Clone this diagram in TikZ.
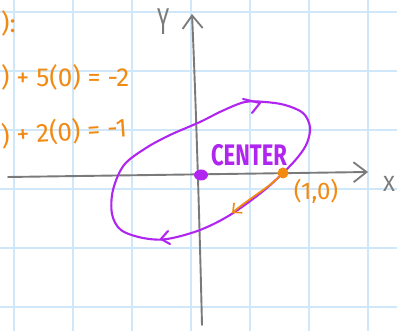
\documentclass[tikz,border=0pt]{standalone}
\usepackage{fontspec}
\setmainfont{Fira Sans}
\usetikzlibrary{arrows.meta}
\definecolor{gridc}{HTML}{CFE7F8}
\definecolor{axisc}{HTML}{7A7A7A}
\definecolor{purp}{HTML}{B026F0}
\definecolor{orng}{HTML}{F28A12}
\tikzset{
  gridline/.style={gridc, line width=1.2pt},
  axisline/.style={axisc, line width=1.9pt, line cap=round, line join=round},
  chev/.style={-{Straight Barb[length=13pt,width=20pt,line width=1.8pt]}},
  ovalpath/.style={purp, line width=2.1pt, line cap=round, line join=round},
  orngtxt/.style={orng, font=\fontsize{26}{28}\selectfont, inner sep=0pt},
  purptxt/.style={purp, font=\fontsize{22}{24}\selectfont\bfseries, inner sep=0pt},
  axlabel/.style={axisc, font=\fontsize{22}{24}\selectfont, inner sep=0pt}
}
\begin{document}
\begin{tikzpicture}[x=1pt,y=-1pt]
\useasboundingbox (0,0) rectangle (397,331);
\fill[white] (0,0) rectangle (397,331);
\clip (0,0) rectangle (397,331);
% grid
\foreach \gx in {14,73,132,191,250,309,368}
  \draw[gridline] (\gx,0) -- (\gx,331);
\foreach \gy in {12,71,130,189,248,307}
  \draw[gridline] (0,\gy) -- (397,\gy);
% axes
\coordinate (xs) at (8,177);
\coordinate (xe) at (368,172);
\coordinate (ys) at (202,325);
\coordinate (ye) at (192,14);
\draw[axisline, chev] (xs) -- (xe);
\draw[axisline, chev] (ys) .. controls (199,200) and (195,80) .. (ye);
\node[axlabel] (xl) at (389,184) {X};
\node[axlabel, yscale=1.7] (yl) at (164,22) {Y};
% closed orbit
\draw[ovalpath] plot[smooth cycle, tension=0.55] coordinates {
  (283,173) (262,192) (230,215) (200,230) (167,239) (143,238) (121,230)
  (112,214) (113,190) (124,165) (146,148) (170,135) (200,122) (222,111)
  (245,102) (265,102) (285,105) (303,113) (310,127) (307,143) (298,157)};
\draw[ovalpath] (243,99) -- (260,103) -- (252,113);
\draw[ovalpath] (168,231) -- (161,239) -- (170,244);
% points
\fill[purp] (201,175) ellipse[x radius=7, y radius=5.5];
\node[circle, fill=orng, inner sep=0pt, minimum size=11pt] (p) at (283,173) {};
\coordinate (pend) at (232,213);
\draw[orng, line width=1.8pt, line cap=round, -{Straight Barb[length=7pt,width=13pt,line width=1.6pt]}] (p) .. controls (268,188) and (250,198) .. (pend);
\node[purptxt, yscale=1.35] (center) at (249,155) {CENTER};
\node[orngtxt, font=\fontsize{24}{26}\selectfont] (pt) at (316,191) {(1,0)};
% left text
\node[orngtxt, anchor=west] (t1) at (1,23) {):};
\node[orngtxt, anchor=west] (t2) at (1,77) {) + 5(0) = -2};
\node[orngtxt, anchor=west, rotate=4] (t3) at (1,136) {) + 2(0) = -1};
\end{tikzpicture}
\end{document}
